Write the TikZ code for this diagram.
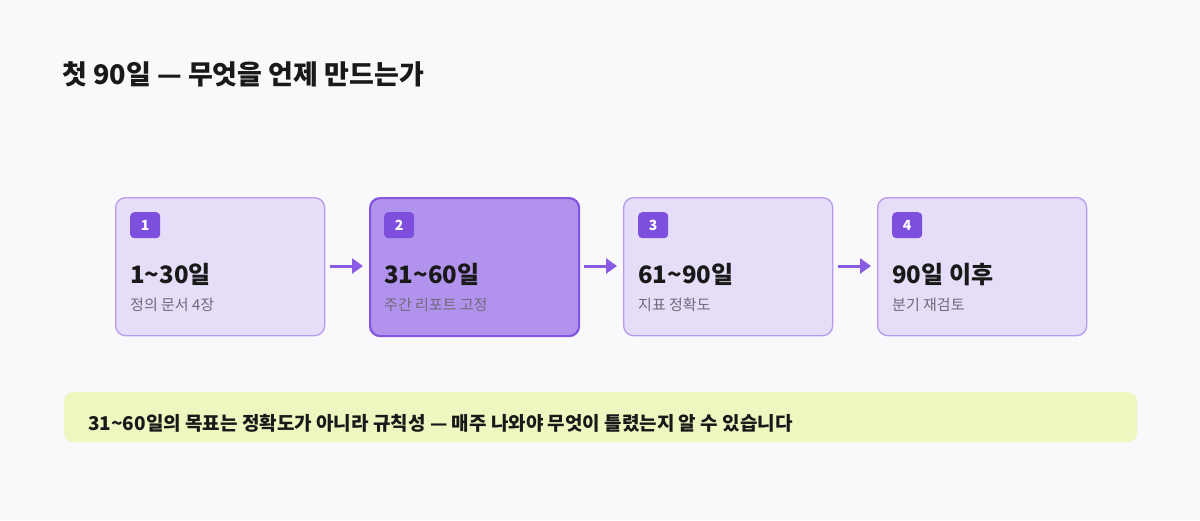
\documentclass[tikz,border=0pt]{standalone}
\usepackage{fontspec}
\setmainfont{Noto Sans CJK KR}
\usetikzlibrary{arrows.meta}
\definecolor{bg}{HTML}{F9F9FB}
\definecolor{boxf}{HTML}{E6DEF8}
\definecolor{boxs}{HTML}{B79AF0}
\definecolor{actf}{HTML}{B193EE}
\definecolor{acts}{HTML}{8456E0}
\definecolor{badge}{HTML}{7E4FDD}
\definecolor{arr}{HTML}{8A5BE3}
\definecolor{note}{HTML}{EEF7C0}
\definecolor{sub}{HTML}{6E6A78}
\begin{document}
\begin{tikzpicture}[x=1pt,y=-1pt,
  box/.style={draw=boxs,fill=boxf,line width=1.3pt,rounded corners=10pt,minimum width=209pt,minimum height=138pt,anchor=north west},
  act/.style={box,draw=acts,fill=actf,line width=2.2pt},
  bdg/.style={fill=badge,rounded corners=4pt,minimum width=30pt,minimum height=26pt,anchor=north west,inner sep=0pt,text=white,font=\fontsize{14}{14}\selectfont\bfseries},
  big/.style={anchor=base west,font=\fontsize{24}{24}\selectfont\bfseries,text=black!90,inner sep=0pt},
  sm/.style={anchor=base west,font=\fontsize{15}{15}\selectfont,text=sub,inner sep=0pt},
  ar/.style={draw=arr,line width=3pt,-{Triangle[length=11pt,width=15pt]}}]
\fill[bg] (0,0) rectangle (1200,520);
\useasboundingbox (0,0) rectangle (1200,520);
\node[anchor=base west,inner sep=0pt,font=\fontsize{27}{27}\selectfont\bfseries,text=black!90] (title) at (62,84) {첫 90일 — 무엇을 언제 만드는가};
\foreach \i/\x/\s/\a/\b in {1/115/box/1\textasciitilde30일/정의 문서 4장,2/369/act/31\textasciitilde60일/주간 리포트 고정,3/623/box/61\textasciitilde90일/지표 정확도,4/877/box/90일 이후/분기 재검토}{
  \node[\s] (b\i) at (\x,197) {};
  \node[bdg] (n\i) at (\x+15,212) {\i};
  \node[big] (t\i) at (\x+15,283) {\a};
  \node[sm] (s\i) at (\x+15,310) {\b};
}
\coordinate (a1) at (330,266); \coordinate (a2) at (584,266); \coordinate (a3) at (838,266);
\draw[ar] (a1) -- ++(33,0);
\draw[ar] (a2) -- ++(33,0);
\draw[ar] (a3) -- ++(33,0);
\node[fill=note,rounded corners=9pt,minimum width=1073pt,minimum height=50pt,anchor=north west] (nb) at (64,392) {};
\node[anchor=base west,inner sep=0pt,font=\fontsize{19}{19}\selectfont\bfseries,text=black!90] (nt) at (88,430) {31\textasciitilde60일의 목표는 정확도가 아니라 규칙성 — 매주 나와야 무엇이 틀렸는지 알 수 있습니다};
\end{tikzpicture}
\end{document}
